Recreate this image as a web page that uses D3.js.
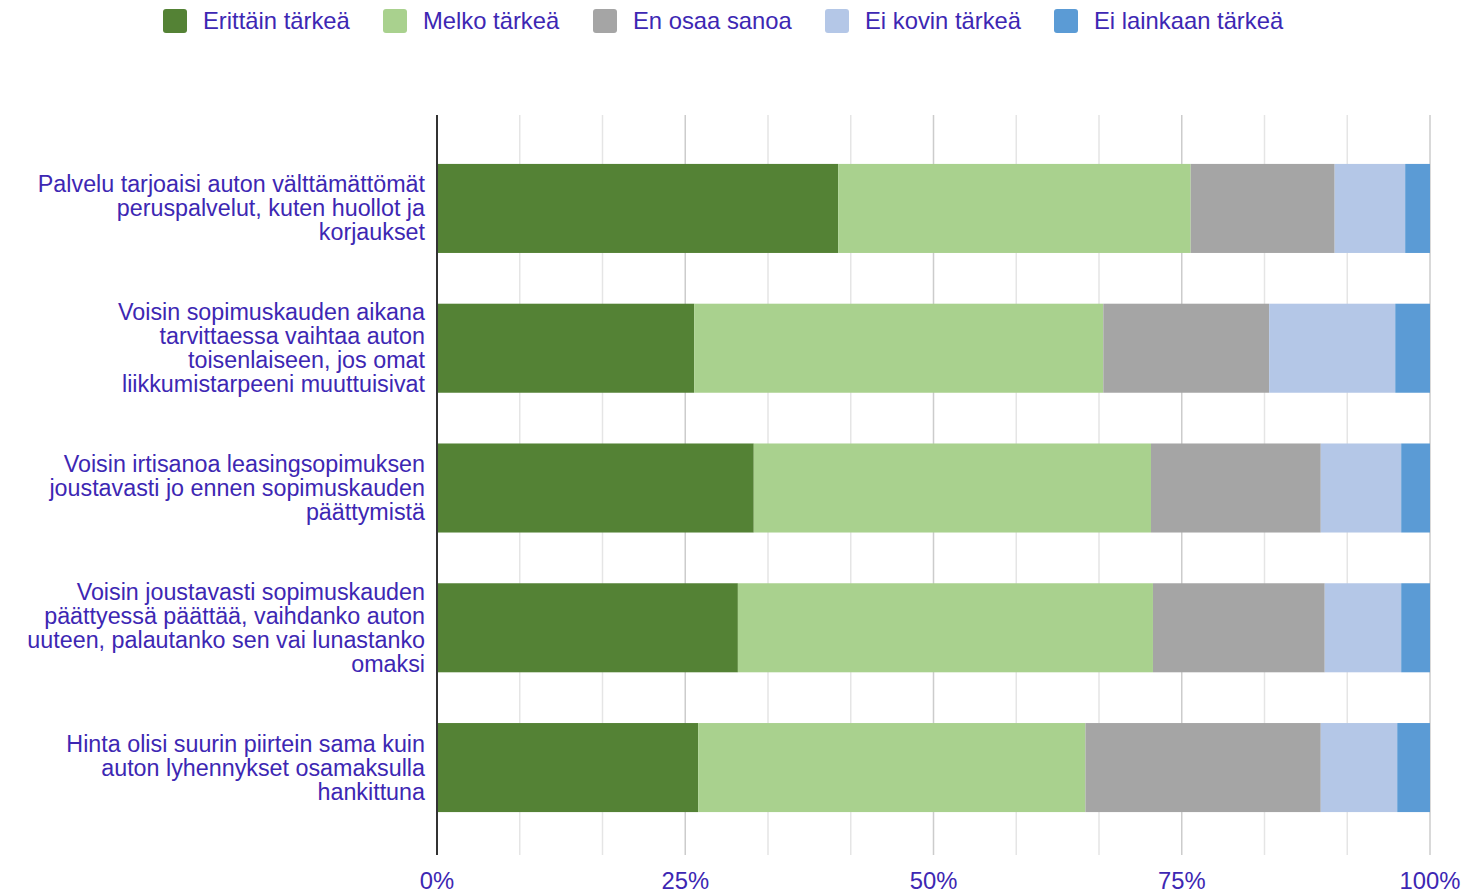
<!DOCTYPE html>
<html lang="fi">
<head>
<meta charset="utf-8">
<title>Leasingpalvelun ominaisuuksien tärkeys</title>
<style>
  body { margin: 0; background: #fff; }
  svg { display: block; font-family: "Liberation Sans", Arial, sans-serif; }
  .lbl { fill: #3d27b3; font-size: 23.8px; }
  .ylbl { font-size: 23.3px; }
  .grid line { stroke: #e5e5e5; stroke-width: 1.5; }
  .grid line.major { stroke: #cccccc; }
</style>
</head>
<body>
<div id="chart"></div>
<script src="https://cdn.jsdelivr.net/npm/d3@7"></script>
<script>
// categories (one per bar, lines as shown)
var questions = [
  ["Palvelu tarjoaisi auton välttämättömät", "peruspalvelut, kuten huollot ja", "korjaukset"],
  ["Voisin sopimuskauden aikana", "tarvittaessa vaihtaa auton", "toisenlaiseen, jos omat", "liikkumistarpeeni muuttuisivat"],
  ["Voisin irtisanoa leasingsopimuksen", "joustavasti jo ennen sopimuskauden", "päättymistä"],
  ["Voisin joustavasti sopimuskauden", "päättyessä päättää, vaihdanko auton", "uuteen, palautanko sen vai lunastanko", "omaksi"],
  ["Hinta olisi suurin piirtein sama kuin", "auton lyhennykset osamaksulla", "hankittuna"]
];
var seriesNames = ["Erittäin tärkeä", "Melko tärkeä", "En osaa sanoa", "Ei kovin tärkeä", "Ei lainkaan tärkeä"];
var seriesColors = ["#548235", "#a9d18e", "#a5a5a5", "#b4c7e7", "#5b9bd5"];

// shares in percent, per series, in question order
var veryImportant   = [40.4, 25.9, 31.9, 30.3, 26.3];
var quiteImportant  = [35.5, 41.2, 40.0, 41.8, 39.0];
var cannotSay       = [14.5, 16.7, 17.1, 17.3, 23.7];
var notVery         = [7.1, 12.7, 8.1, 7.7, 7.7];
var notAtAll        = [2.5, 3.5, 2.9, 2.9, 3.3];

var tickValues = [0, 25, 50, 75, 100];
var tickLabels = ["0%", "25%", "50%", "75%", "100%"];

var W = 1463, H = 895;
var margin = {top: 115, right: 33, bottom: 40, left: 437};
var width = W - margin.left - margin.right,
    height = H - margin.top - margin.bottom;

var rows = questions.map(function(q, i) {
  return {key: i, v: [veryImportant[i], quiteImportant[i], cannotSay[i], notVery[i], notAtAll[i]]};
});
var table = rows.map(function(r) {
  var o = {key: r.key};
  r.v.forEach(function(v, j) { o["s" + j] = v; });
  return o;
});
var stack = d3.stack().keys(seriesNames.map(function(d, j) { return "s" + j; }))
  .offset(d3.stackOffsetExpand)(table);

var svg = d3.select("#chart").append("svg").attr("width", W).attr("height", H);
var plt = svg.append("g").attr("transform", "translate(" + margin.left + "," + margin.top + ")");

var x = d3.scaleLinear().domain([0, 1]).range([0, width]);
var y = d3.scaleBand().domain(d3.range(questions.length)).range([0, 746]).paddingInner(0.363).paddingOuter(0.35);

// gridlines every 1/12
var gridVals = d3.range(1, 13).map(function(i) { return i / 12; });
plt.append("g").attr("class", "grid")
  .selectAll("line").data(gridVals).enter().append("line")
  .attr("class", function(d, i) { return (i + 1) % 3 === 0 ? "major" : null; })
  .attr("x1", function(d) { return x(d); }).attr("x2", function(d) { return x(d); })
  .attr("y1", 0).attr("y2", height);

// bars
plt.selectAll(".series").data(stack).enter().append("g")
  .attr("fill", function(d, i) { return seriesColors[i]; })
  .selectAll("rect").data(function(d) { return d; }).enter().append("rect")
  .attr("x", function(d) { return x(d[0]); })
  .attr("width", function(d) { return x(d[1]) - x(d[0]); })
  .attr("y", function(d) { return y(d.data.key); })
  .attr("height", y.bandwidth());

// baseline axis
plt.append("line").attr("x1", 0).attr("x2", 0).attr("y1", 0).attr("y2", height)
  .attr("stroke", "#333").attr("stroke-width", 2);

// x tick labels
plt.selectAll(".xt").data(tickValues).enter().append("text")
  .attr("class", "lbl")
  .attr("x", function(d) { return x(d / 100); })
  .attr("y", height + 34)
  .attr("text-anchor", "middle")
  .text(function(d, i) { return tickLabels[i]; });

// y labels
var lh = 24;
plt.selectAll(".yl").data(questions).enter().append("text")
  .attr("class", "lbl ylbl")
  .attr("text-anchor", "end")
  .attr("transform", function(d, i) {
    var cy = y(i) + y.bandwidth() / 2 - (d.length - 1) * lh / 2 + 8;
    return "translate(-12," + cy + ")";
  })
  .selectAll("tspan").data(function(d) { return d; }).enter().append("tspan")
  .attr("x", 0).attr("dy", function(d, i) { return i ? lh : 0; })
  .text(function(d) { return d; });

// legend
var legX = [163, 383, 593, 825, 1054];
var leg = svg.selectAll(".leg").data(seriesNames).enter().append("g")
  .attr("transform", function(d, i) { return "translate(" + legX[i] + ",9)"; });
leg.append("rect").attr("width", 24).attr("height", 24).attr("rx", 3)
  .attr("fill", function(d, i) { return seriesColors[i]; });
leg.append("text").attr("class", "lbl").attr("x", 40).attr("y", 20)
  .text(function(d) { return d; });
</script>
</body>
</html>
